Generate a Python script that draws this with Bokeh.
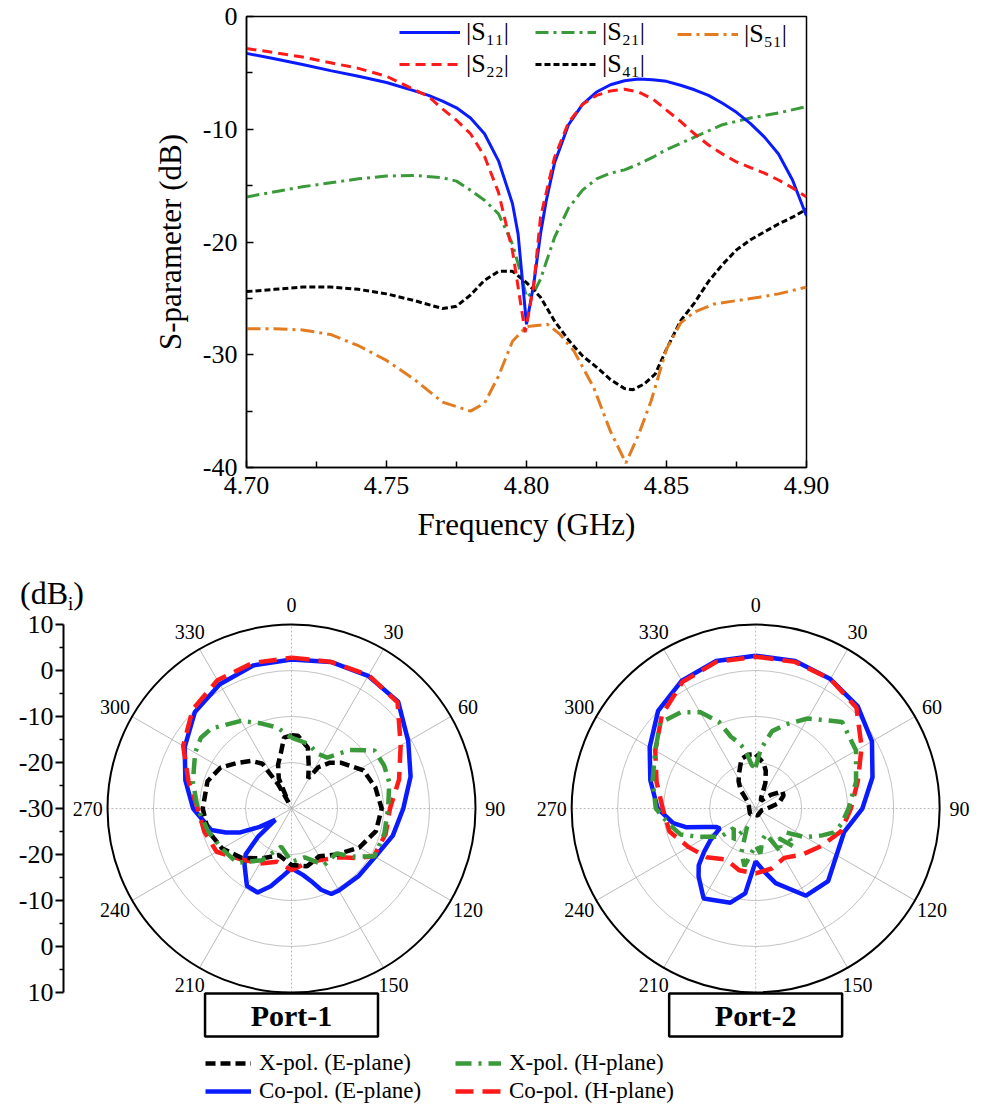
import numpy as np
from bokeh.plotting import figure
from bokeh.models import (Range1d, FixedTicker, LinearAxis, Legend, LegendItem,
                          NumeralTickFormatter, Div)
from bokeh.core.properties import value
from bokeh.embed import file_html
from bokeh.resources import INLINE

FONT = "Liberation Serif"
BLUE, RED, GREEN, ORANGE, BLACK = "#0a1cff", "#ff1a1a", "#3a9a3a", "#e27c20", "#000000"

# ---------------- S-parameter data ----------------
f_s11 = [4.70, 4.71, 4.72, 4.73, 4.74, 4.75, 4.76, 4.765, 4.77, 4.775, 4.78, 4.785, 4.79, 4.795,
         4.797, 4.80, 4.8026, 4.805, 4.807, 4.81, 4.815, 4.82, 4.825, 4.83, 4.835, 4.84, 4.845,
         4.85, 4.855, 4.86, 4.865, 4.87, 4.875, 4.88, 4.885, 4.89, 4.895, 4.90]
s11 = [-3.27, -3.75, -4.25, -4.8, -5.3, -5.85, -6.6, -7.0, -7.5, -8.1, -9.0, -10.4, -12.8, -16.6,
       -19.3, -27.3, -23.7, -19.3, -16.4, -13.0, -9.6, -7.8, -6.7, -6.05, -5.7, -5.55, -5.6,
       -5.75, -6.1, -6.5, -7.0, -7.7, -8.5, -9.5, -10.7, -12.2, -14.5, -17.7]

f_s22 = [4.70, 4.71, 4.72, 4.73, 4.74, 4.75, 4.76, 4.765, 4.77, 4.775, 4.78, 4.785, 4.79, 4.795,
         4.7995, 4.8025, 4.805, 4.81, 4.815, 4.82, 4.825, 4.83, 4.835, 4.84, 4.845, 4.85, 4.855,
         4.86, 4.865, 4.87, 4.875, 4.88, 4.885, 4.89, 4.895, 4.90]
s22 = [-2.84, -3.2, -3.6, -4.1, -4.6, -5.3, -6.5, -7.1, -8.2, -9.2, -10.4, -12.4, -15.6, -20.8,
       -28.0, -24.0, -17.8, -12.5, -9.4, -7.8, -7.0, -6.6, -6.45, -6.7, -7.3, -8.3, -9.3,
       -10.4, -11.4, -12.2, -12.9, -13.4, -13.9, -14.5, -15.2, -16.0]

f_s21 = [4.70, 4.72, 4.74, 4.75, 4.76, 4.77, 4.775, 4.78, 4.785, 4.79, 4.795, 4.798, 4.80, 4.803,
         4.805, 4.81, 4.815, 4.82, 4.825, 4.83, 4.835, 4.84, 4.845, 4.85, 4.86, 4.87, 4.88,
         4.89, 4.90]
s21 = [-16.0, -15.1, -14.4, -14.15, -14.1, -14.3, -14.6, -15.4, -16.3, -17.5, -20.2, -22.8, -24.9,
       -24.3, -23.3, -19.6, -17.0, -15.4, -14.4, -13.9, -13.6, -13.1, -12.5, -11.8, -10.7, -9.6,
       -9.0, -8.55, -8.0]

f_s41 = [4.70, 4.71, 4.72, 4.73, 4.74, 4.75, 4.76, 4.77, 4.775, 4.78, 4.785, 4.79, 4.795, 4.80,
         4.805, 4.81, 4.815, 4.82, 4.825, 4.83, 4.835, 4.838, 4.842, 4.846, 4.85, 4.855, 4.86,
         4.865, 4.87, 4.875, 4.88, 4.885, 4.89, 4.895, 4.90]
s41 = [-24.4, -24.2, -24.0, -24.0, -24.2, -24.6, -25.2, -25.9, -25.7, -24.7, -23.4, -22.6, -22.6,
       -23.6, -24.9, -27.0, -28.7, -30.1, -31.1, -32.2, -33.0, -33.1, -32.6, -31.7, -29.5, -27.0,
       -25.4, -23.5, -22.0, -20.7, -19.8, -19.1, -18.4, -17.8, -17.1]

f_s51 = [4.70, 4.71, 4.72, 4.73, 4.74, 4.75, 4.76, 4.77, 4.78, 4.785, 4.79, 4.795, 4.80, 4.8075,
         4.812, 4.817, 4.824, 4.83, 4.8355, 4.84, 4.8445, 4.85, 4.855, 4.86, 4.867, 4.875,
         4.883, 4.89, 4.90]
s51 = [-27.7, -27.7, -27.8, -28.2, -29.2, -30.5, -32.2, -34.2, -35.0, -34.3, -31.9, -28.8, -27.5,
       -27.3, -28.2, -29.7, -32.9, -36.8, -39.6, -37.1, -34.1, -29.5, -27.2, -26.2, -25.5, -25.2,
       -24.9, -24.6, -24.0]

freq_ticks = [4.70, 4.75, 4.80, 4.85, 4.90]
freq_minor = [4.725, 4.775, 4.825, 4.875]
db_ticks = [-40, -30, -20, -10, 0]
db_minor = [-35, -25, -15, -5]

# ---------------- radiation pattern data (dBi vs angle, deg) ----------------
# Port-1
p1_co_e_ang = [0, 15, 30, 45, 60, 75, 90, 105, 120, 135, 150, 155, 160, 165, 170, 180, 188, 195,
               202, 210, 220, 225, 230, 235, 240, 245, 250, 255, 270, 285, 300, 315, 330, 345]
p1_co_e = [2.4, 3.0, 3.3, 2.8, -0.7, -3.2, -5.7, -7.2, -9.0, -9.3, -9.4, -9.5, -11.2, -13.7, -15.3,
           -17.0, -15.0, -12.5, -10.3, -10.6, -14.1, -15.9, -20.6, -25.7, -22.0, -17.7, -14.8,
           -11.9, -8.6, -6.1, -3.2, -0.3, 1.2, 2.2]
p1_co_h_ang = [0, 15, 30, 45, 60, 75, 90, 105, 120, 128, 135, 150, 165, 180, 195, 210, 225, 240,
               255, 270, 285, 300, 315, 330, 345]
p1_co_h = [2.8, 3.0, 3.5, 2.6, -2.6, -5.8, -8.6, -8.8, -9.3, -12.5, -15.0, -17.1, -17.7, -16.6,
           -18.0, -16.2, -14.4, -11.2, -10.4, -9.6, -6.8, -2.8, 0.4, 2.2, 2.75]
p1_x_e_ang = [0, 5, 15, 22, 29, 33, 40, 47, 62, 76, 90, 105, 120, 135, 150, 165, 180, 195, 210,
              225, 240, 255, 270, 288, 300, 310, 320, 327, 331, 334, 337, 343, 349, 354]
p1_x_e = [-14.1, -14.1, -16.3, -20.0, -22.5, -19.3, -17.0, -15.4, -12.3, -11.2, -10.4, -11.0,
          -13.0, -15.9, -18.0, -17.0, -17.7, -19.5, -17.5, -14.8, -12.6, -11.2, -10.7, -10.8,
          -12.2, -14.6, -16.5, -18.4, -24.0, -28.5, -22.9, -20.0, -17.8, -14.5]
p1_x_h_ang = [0, 15, 25, 35, 45, 55, 65, 75, 90, 105, 120, 128, 135, 150, 165, 180, 195, 210,
              225, 240, 255, 270, 285, 300, 308, 315, 330, 340, 350]
p1_x_h = [-14.6, -15.5, -16.8, -16.5, -12.0, -8.0, -7.8, -8.0, -9.0, -9.1, -9.2, -13.0, -16.2,
          -15.8, -19.0, -18.4, -21.4, -17.0, -13.3, -12.5, -11.2, -9.6, -7.8, -5.8, -5.0, -5.4,
          -8.0, -10.3, -12.1]

# Port-2
p2_co_e_ang = [0, 15, 30, 45, 60, 75, 90, 105, 120, 135, 150, 165, 172, 180, 187, 195, 210, 220,
               225, 230, 235, 241, 245, 250, 255, 260, 270, 285, 300, 315, 330, 345]
p2_co_e = [3.2, 3.2, 2.5, 1.4, -0.8, -3.7, -6.8, -10.1, -9.7, -7.7, -8.1, -13.2, -16.1, -18.5,
           -11.4, -8.8, -7.4, -10.7, -12.5, -15.4, -18.0, -21.1, -20.5, -18.3, -14.3, -11.8,
           -8.7, -6.3, -3.4, 0.0, 2.1, 3.2]
p2_co_h_ang = [0, 15, 30, 45, 60, 75, 90, 105, 120, 135, 150, 165, 180, 195, 210, 225, 240, 255,
               270, 285, 300, 315, 330, 345]
p2_co_h = [3.0, 3.0, 2.5, 1.0, -3.4, -7.0, -9.3, -10.8, -13.6, -15.8, -17.6, -16.5, -15.9, -16.1,
           -17.2, -15.0, -13.2, -10.6, -9.8, -7.7, -4.8, -1.2, 1.8, 3.0]
p2_x_e_ang = [0, 10, 15, 21, 28, 35, 42, 48, 57, 65, 77, 90, 105, 135, 165, 195, 225, 255, 285,
              310, 321, 328, 335, 344, 352]
p2_x_e = [-18.2, -20.0, -21.5, -24.1, -27.5, -28.0, -27.0, -25.6, -23.1, -23.3, -24.8, -27.5,
          -28.6, -28.7, -28.4, -28.6, -28.3, -28.6, -28.5, -27.8, -24.8, -23.0, -21.5, -18.8, -18.2]
p2_x_h_ang = [0, 5, 12, 20, 30, 45, 60, 75, 90, 100, 107, 112, 120, 128, 135, 142, 150, 158, 168,
              174, 180, 191, 198, 205, 215, 228, 231, 244, 251, 260, 270, 285, 300, 312, 322, 330,
              337, 341, 345, 350, 355]
p2_x_h = [-21.0, -17.0, -12.8, -10.5, -7.4, -3.4, -4.8, -7.4, -9.8, -11.0, -12.2, -14.4, -17.5,
          -21.5, -18.3, -21.8, -19.0, -24.0, -23.0, -20.2, -22.0, -17.2, -20.0, -25.6, -21.7,
          -23.6, -20.2, -16.0, -12.7, -10.8, -8.3, -6.8, -4.8, -2.1, -3.5, -5.8, -9.5, -13.5,
          -15.0, -17.0, -20.6]

R_MIN, R_MAX = -30, 10
ring_levels = [-20, -10, 0]
spoke_angles = [0, 30, 60, 90, 120, 150]
angle_labels = [str(a) for a in range(0, 360, 30)]
scale_ticks = [-40, -30, -20, -10, 0, 10, 20, 30, 40]
scale_labels = ["10", "0", "-10", "-20", "-30", "-20", "-10", "0", "10"]

# ================= top figure =================
top = figure(width=985, height=550, x_range=Range1d(4.70, 4.90), y_range=Range1d(-40, 0),
             output_backend="svg", toolbar_location=None,
             min_border_left=246, min_border_right=179, min_border_top=16, min_border_bottom=83)
top.grid.visible = False
top.outline_line_color = "black"
top.outline_line_width = 1.5
top.background_fill_color = "white"

top.xaxis.ticker = FixedTicker(ticks=freq_ticks, minor_ticks=freq_minor)
top.xaxis.formatter = NumeralTickFormatter(format="0.00")
top.yaxis.ticker = FixedTicker(ticks=db_ticks, minor_ticks=db_minor)
top.yaxis.major_label_overrides = {t: str(t) for t in db_ticks}
top.xaxis.axis_label = "Frequency (GHz)"
top.yaxis.axis_label = "S-parameter (dB)"
for ax in (top.xaxis, top.yaxis):
    ax.axis_label_text_font = FONT
    ax.axis_label_text_font_size = "31px"
    ax.axis_label_text_font_style = "normal"
    ax.axis_label_text_color = "black"
    ax.major_label_text_font = FONT
    ax.major_label_text_font_size = "26px"
    ax.major_label_text_color = "black"
    ax.axis_line_width = 1.5
    ax.major_tick_in = 7
    ax.major_tick_out = 0
    ax.minor_tick_in = 6
    ax.minor_tick_out = 0
    ax.major_tick_line_width = 1.5
    ax.minor_tick_line_width = 1.5
top.xaxis.major_label_standoff = 9
top.xaxis.axis_label_standoff = 10
top.yaxis.major_label_standoff = 9
top.yaxis.axis_label_standoff = 12

r21 = top.line(f_s21, s21, line_color=GREEN, line_width=3, line_dash="13 5 3 5")
r41 = top.line(f_s41, s41, line_color=BLACK, line_width=3, line_dash="6 3")
r51 = top.line(f_s51, s51, line_color=ORANGE, line_width=3, line_dash="14 5 3 5")
r11 = top.line(f_s11, s11, line_color=BLUE, line_width=3)
r22 = top.line(f_s22, s22, line_color=RED, line_width=3, line_dash="10 6")


def make_legend(items, loc, glyph_w, font_size, lab_h, standoff, spacing):
    lg = Legend(items=items, location=loc, orientation="vertical",
                glyph_width=glyph_w, glyph_height=lab_h, label_height=lab_h, spacing=spacing,
                label_standoff=standoff, padding=0, margin=0,
                border_line_alpha=0, background_fill_alpha=0,
                label_text_font=FONT, label_text_font_size=font_size, label_text_color="black")
    return lg


top.add_layout(make_legend([LegendItem(label="|S\u2081\u2081|", renderers=[r11]),
                            LegendItem(label="|S\u2082\u2082|", renderers=[r22])],
                           (153, 388), 61, "26px", 26, 6, 2))
top.add_layout(make_legend([LegendItem(label="|S\u2082\u2081|", renderers=[r21]),
                            LegendItem(label="|S\u2084\u2081|", renderers=[r41])],
                           (289, 388), 61, "26px", 26, 6, 2))
top.add_layout(make_legend([LegendItem(label="|S\u2085\u2081|", renderers=[r51])],
                           (431, 418), 61, "26px", 26, 6, 2))

# ================= bottom figure (polar patterns) =================
bot = figure(width=985, height=558, x_range=Range1d(-49.57, 150.87), y_range=Range1d(-65.22, 56.09),
             output_backend="svg", toolbar_location=None,
             x_axis_location=None, y_axis_location=None,
             min_border_left=63, min_border_right=0, min_border_top=0, min_border_bottom=0)
bot.outline_line_color = None
for g in bot.grid:
    g.visible = False

scale_axis = LinearAxis(ticker=FixedTicker(ticks=scale_ticks,
                                           minor_ticks=[t + 5 for t in scale_ticks[:-1]]),
                        major_label_overrides=dict(zip(scale_ticks, scale_labels)),
                        bounds=(-40, 40))
scale_axis.major_label_text_font = FONT
scale_axis.major_label_text_font_size = "26px"
scale_axis.major_label_text_color = "black"
scale_axis.axis_line_width = 2
scale_axis.major_tick_out = 8
scale_axis.major_tick_in = 0
scale_axis.minor_tick_out = 4
scale_axis.minor_tick_in = 0
scale_axis.major_tick_line_width = 2
scale_axis.minor_tick_line_width = 1.5
scale_axis.major_label_standoff = 2
bot.add_layout(scale_axis, "left")


def polar_xy(ang, db, cx):
    a = np.radians(np.array(list(ang) + [ang[0] + 360], dtype=float))
    r = np.array(list(db) + [db[0]], dtype=float) - R_MIN
    r = np.clip(r, 0, None)
    return cx + r * np.sin(a), r * np.cos(a)


centers = [0.0, 100.9]
port_names = ["Port-1", "Port-2"]
datasets = [
    (p1_co_e_ang, p1_co_e, p1_co_h_ang, p1_co_h, p1_x_e_ang, p1_x_e, p1_x_h_ang, p1_x_h),
    (p2_co_e_ang, p2_co_e, p2_co_h_ang, p2_co_h, p2_x_e_ang, p2_x_e, p2_x_h_ang, p2_x_h),
]
R_OUT = R_MAX - R_MIN
leg_renderers = None
for cx, name, d in zip(centers, port_names, datasets):
    bot.circle(x=[cx] * len(ring_levels), y=[0] * len(ring_levels),
               radius=[lv - R_MIN for lv in ring_levels],
               fill_color=None, line_color="#b4b4b4", line_width=0.8)
    for a in spoke_angles:
        t = np.radians(a)
        dash = "2 2" if a % 90 == 0 else "solid"
        bot.segment(x0=[cx - R_OUT * np.sin(t)], y0=[-R_OUT * np.cos(t)],
                    x1=[cx + R_OUT * np.sin(t)], y1=[R_OUT * np.cos(t)],
                    line_color="#a8a8a8", line_width=0.8, line_dash=dash)
    bot.circle(x=[cx], y=[0], radius=[R_OUT], fill_color=None, line_color="black", line_width=2)
    la = np.radians(np.arange(0, 360, 30))
    bot.text(x=cx + 44.3 * np.sin(la), y=44.3 * np.cos(la), text=angle_labels,
             text_font=value(FONT), text_font_size="20px", text_align="center",
             text_baseline="middle", text_color="black")
    xs, ys = polar_xy(d[0], d[1], cx)
    rb = bot.line(xs, ys, line_color=BLUE, line_width=4.5)
    xs, ys = polar_xy(d[2], d[3], cx)
    rr = bot.line(xs, ys, line_color=RED, line_width=4.5, line_dash="18 9")
    xs, ys = polar_xy(d[4], d[5], cx)
    rk = bot.line(xs, ys, line_color=BLACK, line_width=4.5, line_dash="10 5")
    xs, ys = polar_xy(d[6], d[7], cx)
    rg = bot.line(xs, ys, line_color=GREEN, line_width=4.5, line_dash="16 7 3 7")
    if leg_renderers is None:
        leg_renderers = (rk, rb, rg, rr)
    bot.rect(x=[cx], y=[-44.9], width=37.6, height=9.35, fill_color="white",
             line_color="black", line_width=2.5)
    bot.text(x=[cx], y=[-44.9], text=[name], text_font=value(FONT), text_font_size="30px",
             text_font_style="bold", text_align="center", text_baseline="middle",
             text_color="black")

rk, rb, rg, rr = leg_renderers
bot.add_layout(make_legend([LegendItem(label="X-pol. (E-plane)", renderers=[rk]),
                            LegendItem(label="Co-pol. (E-plane)", renderers=[rb])],
                           (142, 4), 46, "23px", 24, 8, 2))
bot.add_layout(make_legend([LegendItem(label="X-pol. (H-plane)", renderers=[rg]),
                            LegendItem(label="Co-pol. (H-plane)", renderers=[rr])],
                           (392, 4), 46, "23px", 24, 8, 2))

# unit label of the radial scale, placed over the page at the top-left of the polar panel
unit_label = Div(text="(dB<sub style='font-size:19px;vertical-align:-6px'>i</sub>)",
                 width=90, height=40,
                 styles={"position": "absolute", "left": "20px", "top": "577px",
                         "font-family": FONT, "font-size": "32px", "color": "black",
                         "line-height": "32px", "margin": "0", "padding": "0"})

open("out.html", "w").write(file_html([top, bot, unit_label], INLINE))
